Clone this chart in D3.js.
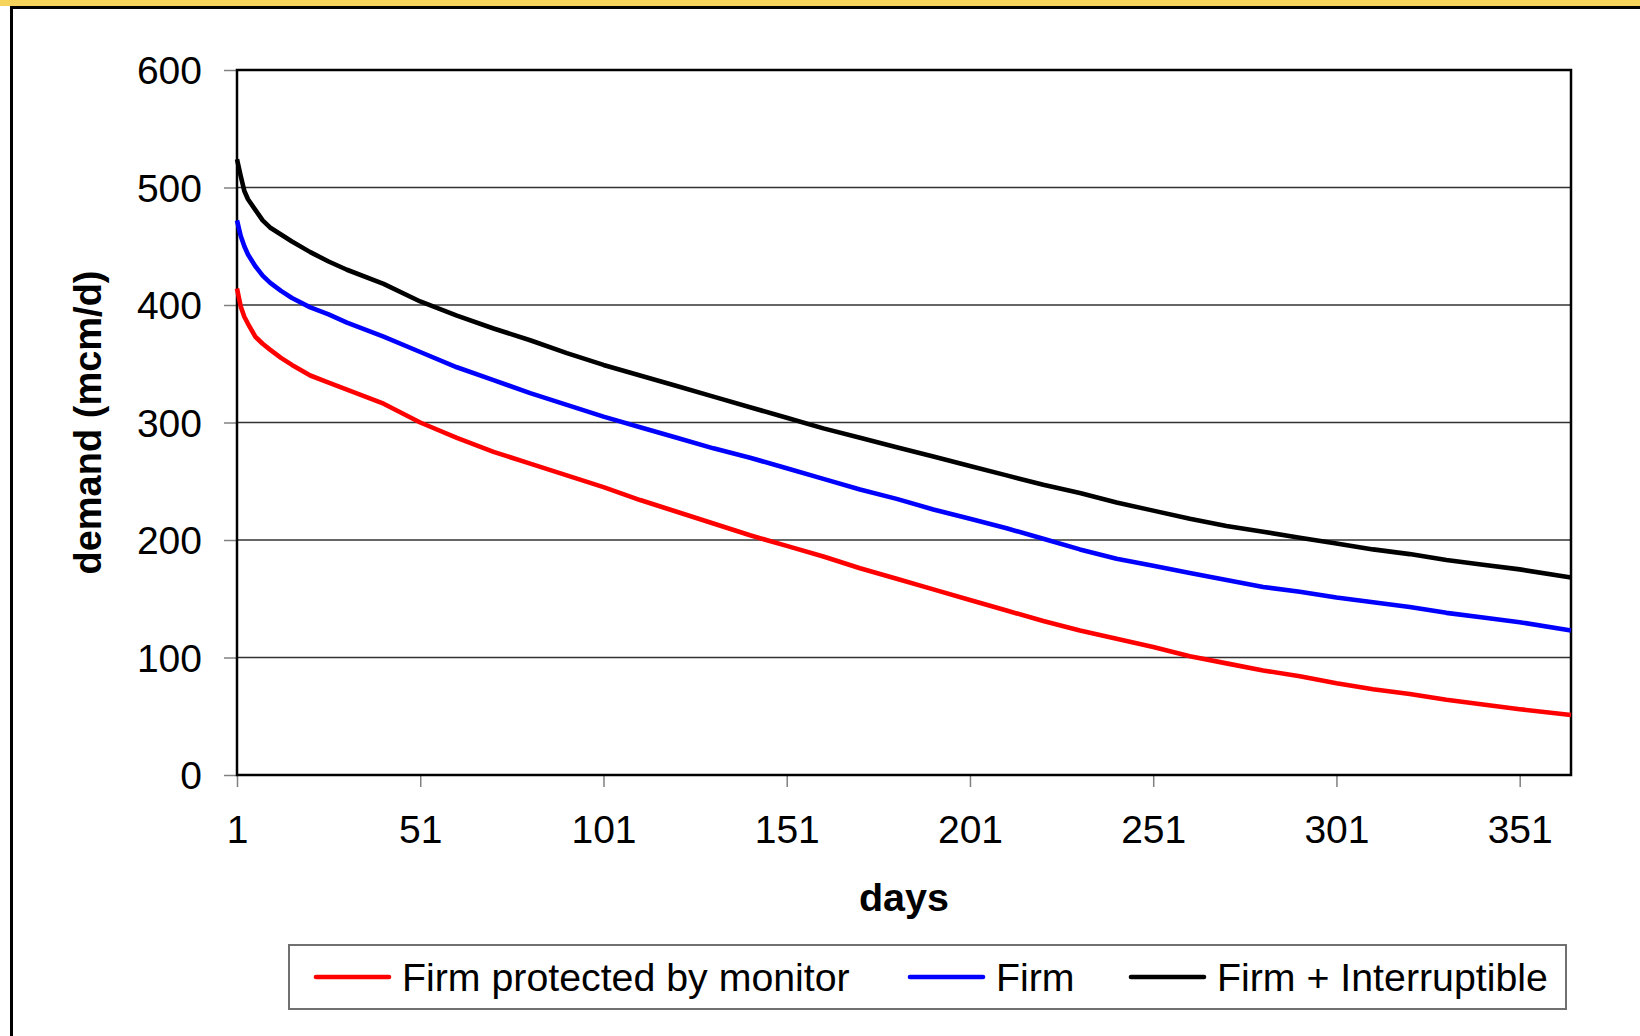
<!DOCTYPE html>
<html>
<head>
<meta charset="utf-8">
<script src="https://cdn.jsdelivr.net/npm/d3@7"></script>
<style>
  html, body { margin: 0; padding: 0; background: #ffffff; }
  svg { display: block; font-family: "Liberation Sans", Arial, sans-serif; }
</style>
</head>
<body>
<svg id="chart" width="1640" height="1036"></svg>
<script>
// ---- data ----
const days = [1, 2, 3, 4, 6, 8, 10, 13, 16, 21, 26, 31, 41, 51, 61, 71, 81, 91, 101, 111, 121, 131, 141, 151, 161, 171, 181, 191, 201, 211, 221, 231, 241, 251, 261, 271, 281, 291, 301, 311, 321, 331, 341, 351, 365];
const firmInterruptible = [524, 510, 497, 490, 481, 472, 466, 460, 454, 445, 437, 430, 418, 403, 391, 380, 370, 359, 349, 340, 331, 322, 313, 304, 295, 287, 279, 271, 263, 255, 247, 240, 232, 225, 218, 212, 207, 202, 197, 192, 188, 183, 179, 175, 168];
const firm = [472, 459, 450, 443, 433, 425, 419, 412, 406, 398, 392, 385, 373, 360, 347, 336, 325, 315, 305, 296, 287, 278, 270, 261, 252, 243, 235, 226, 218, 210, 201, 192, 184, 178, 172, 166, 160, 156, 151, 147, 143, 138, 134, 130, 123];
const firmProtected = [414, 399, 390, 384, 373, 367, 362, 355, 349, 340, 334, 328, 316, 300, 287, 275, 265, 255, 245, 234, 224, 214, 204, 195, 186, 176, 167, 158, 149, 140, 131, 123, 116, 109, 101, 95, 89, 84, 78, 73, 69, 64, 60, 56, 51];
const seriesNames = ["Firm protected by monitor", "Firm", "Firm + Interruptible"];
const seriesColors = ["#ff0000", "#0000ff", "#000000"];
const xTicks = [1, 51, 101, 151, 201, 251, 301, 351];
const yTicks = [0, 100, 200, 300, 400, 500, 600];
const xTitle = "days";
const yTitle = "demand (mcm/d)";

// ---- layout ----
const svg = d3.select("#chart");
const L = 237, R = 1571, T = 70, B = 775;
const x = d3.scaleLinear().domain([1, 365]).range([L, R]);
const y = d3.scaleLinear().domain([0, 600]).range([B, T]);
const FS = 39;

// page decoration (yellow band + frame)
svg.append("rect").attr("x", 0).attr("y", 0).attr("width", 1640).attr("height", 6).attr("fill", "#f6d35b");
svg.append("line").attr("x1", 10).attr("x2", 1640).attr("y1", 7.5).attr("y2", 7.5).attr("stroke", "#000").attr("stroke-width", 3);
svg.append("line").attr("x1", 11.5).attr("x2", 11.5).attr("y1", 6).attr("y2", 1036).attr("stroke", "#000").attr("stroke-width", 3);

// gridlines
svg.append("g").selectAll("line").data(yTicks.filter(v => v > 0 && v < 600)).join("line")
  .attr("x1", L).attr("x2", R).attr("y1", d => y(d)).attr("y2", d => y(d))
  .attr("stroke", "#333").attr("stroke-width", 1.5);

// axes via d3
const yAxis = d3.axisLeft(y).tickValues(yTicks).tickSize(13).tickPadding(22).tickFormat(d3.format("d"));
const gy = svg.append("g").attr("transform", `translate(${L},0)`).call(yAxis);
gy.select(".domain").remove();
gy.selectAll(".tick line").attr("stroke", "#808080").attr("stroke-width", 1.5);
gy.selectAll(".tick text").attr("font-size", FS).attr("fill", "#000")
  .attr("font-family", "'Liberation Sans', Arial, sans-serif").attr("dy", "0.35em");

const xAxis = d3.axisBottom(x).tickValues(xTicks).tickSize(12).tickPadding(0).tickFormat(d3.format("d"));
const gx = svg.append("g").attr("transform", `translate(0,${B})`).call(xAxis);
gx.select(".domain").remove();
gx.selectAll(".tick line").attr("stroke", "#808080").attr("stroke-width", 1.5);
gx.selectAll(".tick text").attr("font-size", FS).attr("fill", "#000")
  .attr("font-family", "'Liberation Sans', Arial, sans-serif").attr("y", 68).attr("dy", 0);

// plot frame
svg.append("rect").attr("x", L).attr("y", T).attr("width", R - L).attr("height", B - T)
  .attr("fill", "none").attr("stroke", "#000").attr("stroke-width", 2.5);

// lines
const allSeries = [firmProtected, firm, firmInterruptible];
const line = d3.line().x((d, i) => x(days[i])).y(d => y(d));
svg.append("g").selectAll("path").data(allSeries).join("path")
  .attr("d", d => line(d))
  .attr("fill", "none")
  .attr("stroke", (d, i) => seriesColors[i])
  .attr("stroke-width", 4.6)
  .attr("stroke-linejoin", "round")
  .attr("stroke-linecap", "butt");

// axis titles
svg.append("text").attr("x", (L + R) / 2).attr("y", 911).attr("text-anchor", "middle")
  .attr("font-size", FS + 0.5).attr("font-weight", "bold").text(xTitle);
svg.append("text").attr("transform", `translate(101,${(T + B) / 2}) rotate(-90)`).attr("text-anchor", "middle")
  .attr("font-size", FS - 1).attr("font-weight", "bold").text(yTitle);

// legend
const lg = svg.append("g");
lg.append("rect").attr("x", 289).attr("y", 945).attr("width", 1277).attr("height", 64)
  .attr("fill", "#fff").attr("stroke", "#707070").attr("stroke-width", 2);
const legendX = [316, 910, 1131];
const item = lg.selectAll("g.item").data(seriesNames).join("g").attr("class", "item")
  .attr("transform", (d, i) => `translate(${legendX[i]},977)`);
item.append("line").attr("x1", 0).attr("x2", 73).attr("y1", 0).attr("y2", 0)
  .attr("stroke", (d, i) => seriesColors[i]).attr("stroke-width", 4.6).attr("stroke-linecap", "round");
item.append("text").attr("x", 86).attr("y", 13.5).attr("font-size", 39.3).text(d => d);
</script>
</body>
</html>
